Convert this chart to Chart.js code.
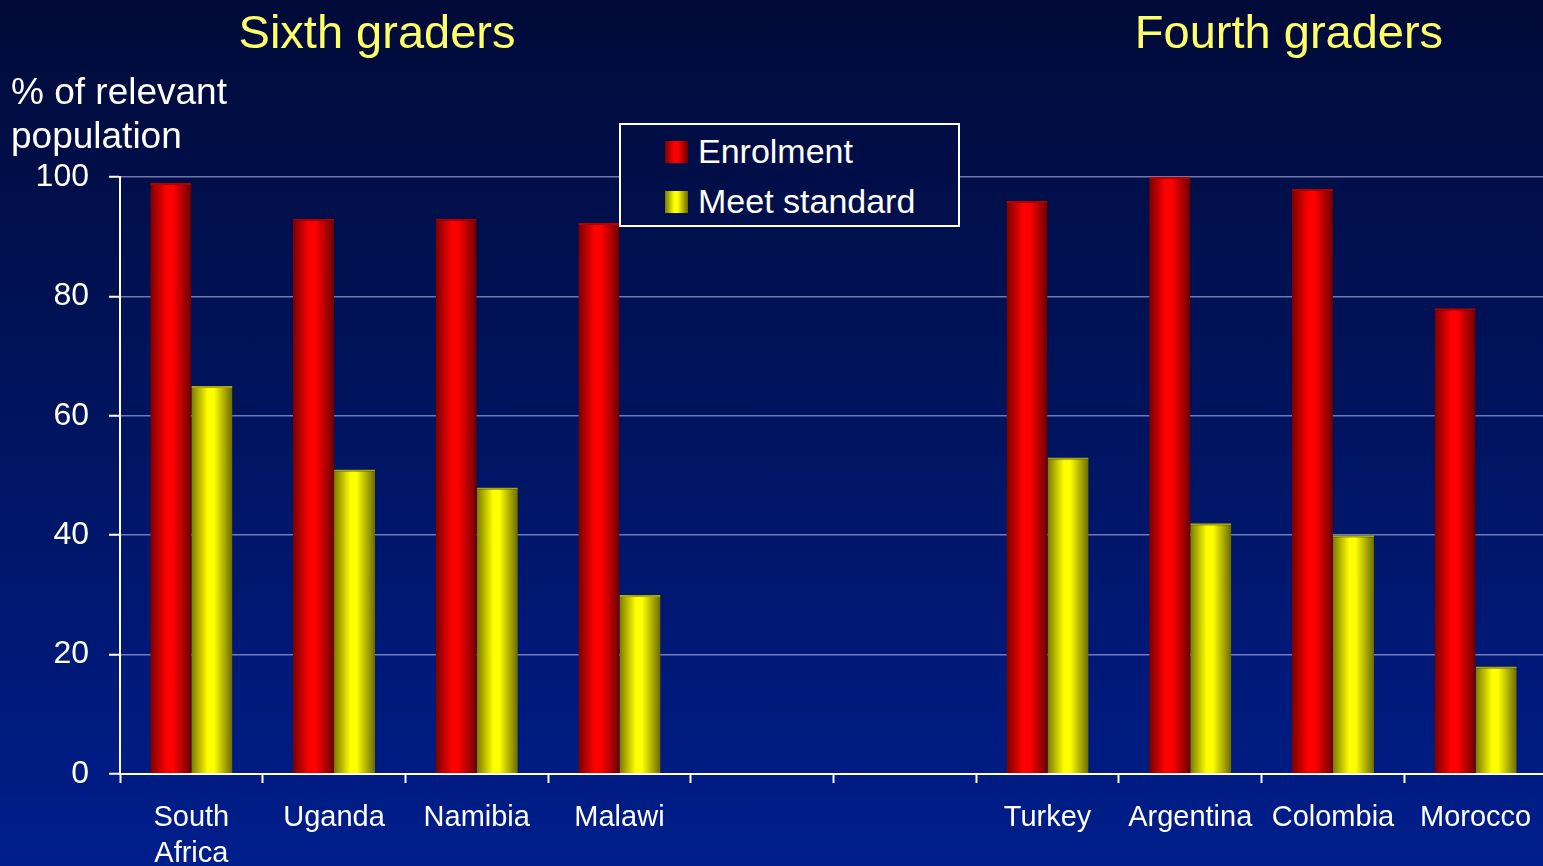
<!DOCTYPE html>
<html>
<head>
<meta charset="utf-8">
<script src="https://cdn.jsdelivr.net/npm/chart.js@4"></script>
<style>
html,body{margin:0;padding:0;width:1543px;height:866px;overflow:hidden;}
body{background:linear-gradient(to bottom,#010a38 0%,#00135c 45%,#001e8c 100%);font-family:'Liberation Sans',Arial,sans-serif;position:relative;}
#cv{position:absolute;left:0;top:0;}
.ttl{position:absolute;top:8px;color:#ffff66;font-size:47px;line-height:47px;white-space:nowrap;transform:translateX(-50%);}
#ytitle{position:absolute;left:11px;top:70px;color:#fff;font-size:37px;line-height:44px;}
#lgd{position:absolute;left:619px;top:123px;width:337px;height:100px;border:2px solid #fff;
  background:linear-gradient(to bottom,#010a38 0%,#00135c 45%,#001e8c 100%);background-attachment:fixed;}
.li{position:absolute;left:0;color:#fff;font-size:34px;line-height:34px;white-space:nowrap;}
.sw{position:absolute;left:44px;width:23px;height:22px;}
.lt{position:absolute;left:77px;top:0;}
</style>
</head>
<body>
<canvas id="cv" width="1550" height="866"></canvas>
<div class="ttl" style="left:377px">Sixth graders</div>
<div class="ttl" style="left:1289px">Fourth graders</div>
<div id="ytitle">% of relevant<br>population</div>
<div id="lgd"></div>
<script>
// categories (two empty slots separate the two groups)
var countries = [['South','Africa'], 'Uganda', 'Namibia', 'Malawi', '', '', 'Turkey', 'Argentina', 'Colombia', 'Morocco'];
var enrolment = [99, 93, 93, 92.3, null, null, 96, 100, 98, 78];
var meetStandard = [65, 51, 48, 30, null, null, 53, 42, 40, 18];
var seriesNames = ['Enrolment', 'Meet standard'];
var yTicks = [0, 20, 40, 60, 80, 100];

// shading stops for the "cylinder" bars
var shades = [
  ['#7a0000', '#ff0000', '#ff0000', '#6a0000'],
  ['#7a7a00', '#ffff00', '#ffff00', '#6a6a00']
];
var tops = ['#b00000', '#a8a800'];

function cssGrad(s){
  return 'linear-gradient(to right,' + s[0] + ' 0%,' + s[1] + ' 40%,' + s[2] + ' 55%,' + s[3] + ' 100%)';
}

// html legend
var lg = document.getElementById('lgd');
for (var i = 0; i < seriesNames.length; i++) {
  var row = document.createElement('div');
  row.className = 'li';
  row.style.top = (i == 0 ? 9 : 59) + 'px';
  row.innerHTML = '<div class="sw" style="top:7px;background:' + cssGrad(shades[i]) + '"></div><div class="lt">' + seriesNames[i] + '</div>';
  lg.appendChild(row);
}

var barShade = {
  id: 'barShade',
  beforeDatasetsDraw: function(chart) {
    var ctx = chart.ctx;
    chart.data.datasets.forEach(function(ds, di) {
      var meta = chart.getDatasetMeta(di);
      var s = shades[di];
      meta.data.forEach(function(bar) {
        var l = bar.x - bar.width / 2, r = bar.x + bar.width / 2;
        var g = ctx.createLinearGradient(l, 0, r, 0);
        g.addColorStop(0, s[0]);
        g.addColorStop(0.4, s[1]);
        g.addColorStop(0.55, s[2]);
        g.addColorStop(1, s[3]);
        bar.options.backgroundColor = g;
      });
    });
  }
};

var FONT = "'Liberation Sans', Arial, sans-serif";

new Chart(document.getElementById('cv'), {
  type: 'bar',
  data: {
    labels: countries,
    datasets: [
      { label: seriesNames[0], data: enrolment, backgroundColor: function(){ return shades[0][1]; },
        borderColor: tops[0], borderWidth: {top: 2, left: 0, right: 0, bottom: 0}, borderSkipped: 'bottom' },
      { label: seriesNames[1], data: meetStandard, backgroundColor: function(){ return shades[1][1]; },
        borderColor: tops[1], borderWidth: {top: 2, left: 0, right: 0, bottom: 0}, borderSkipped: 'bottom' }
    ]
  },
  options: {
    responsive: false,
    animation: false,
    events: [],
    categoryPercentage: 0.576,
    barPercentage: 1.0,
    layout: { padding: { top: 177, right: 3, left: 0, bottom: 0 } },
    plugins: { legend: { display: false }, title: { display: false }, tooltip: { enabled: false } },
    scales: {
      x: {
        grid: { drawOnChartArea: false, drawTicks: true, tickColor: '#ffffff', tickLength: 9, tickWidth: 2, offset: true },
        border: { color: '#ffffff', width: 2 },
        ticks: { color: '#ffffff', font: { family: FONT, size: 29, lineHeight: '36px' }, padding: 17, maxRotation: 0, autoSkip: false },
        afterFit: function(sc) { sc.height = 92; }
      },
      y: {
        min: 0, max: 100,
        afterBuildTicks: function(sc) { sc.ticks = yTicks.map(function(v){ return { value: v }; }); },
        grid: { color: 'rgba(185,190,240,0.6)', lineWidth: 1.5, tickColor: '#ffffff', tickLength: 11, tickWidth: 2 },
        border: { color: '#ffffff', width: 2 },
        ticks: { color: '#ffffff', font: { family: FONT, size: 32 }, padding: 20 },
        afterFit: function(sc) { sc.width = 120; }
      }
    }
  },
  plugins: [barShade]
});
</script>
</body>
</html>
